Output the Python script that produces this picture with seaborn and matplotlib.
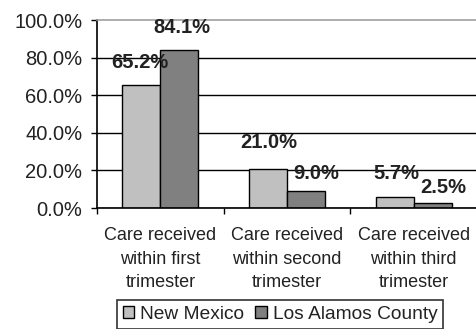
import matplotlib
matplotlib.use("Agg")
import matplotlib.pyplot as plt
import seaborn as sns
import pandas as pd
from matplotlib.ticker import FuncFormatter

categories = [
    "Care received\nwithin first\ntrimester",
    "Care received\nwithin second\ntrimester",
    "Care received\nwithin third\ntrimester",
]
regions = ["New Mexico", "Los Alamos County"]
new_mexico = [65.2, 21.0, 5.7]
los_alamos = [84.1, 9.0, 2.5]
y_ticks = [0, 20, 40, 60, 80, 100]

# value-label offsets (pixels right, pixels up from the bar top), per series
label_shift = {
    "New Mexico": [(-1, 23), (1, 26), (2, 24)],
    "Los Alamos County": [(3, 22), (10, 18), (11, 16)],
}

df = pd.DataFrame({
    "category": categories * 2,
    "region": [regions[0]] * 3 + [regions[1]] * 3,
    "pct": new_mexico + los_alamos,
})

sns.set_style("white")
plt.rcParams["font.family"] = ["Liberation Sans", "DejaVu Sans"]

fig = plt.figure(figsize=(4.77, 3.29), dpi=100)
ax = fig.add_axes([97 / 477, 121 / 329, 380 / 477, 188 / 329])

sns.barplot(
    data=df, x="category", y="pct", hue="region",
    hue_order=regions, order=categories,
    palette=["#c0c0c0", "#808080"], width=0.6,
    edgecolor="black", linewidth=1.0, saturation=1, ax=ax,
)

px = 72 / 100
for region, cont in zip(regions, ax.containers):
    for bar, (dx, dy) in zip(cont, label_shift[region]):
        h = bar.get_height()
        ax.annotate(
            f"{h:.1f}%", (bar.get_x() + bar.get_width() / 2, h),
            xytext=(dx * px, dy * px), textcoords="offset points",
            ha="center", va="center", fontsize=14.5, fontweight="bold",
            color="#222222",
        )

ax.set_ylim(0, 100)
ax.set_xlim(-0.5, 2.5)
ax.set_yticks(y_ticks)
ax.yaxis.set_major_formatter(FuncFormatter(lambda v, _: f"{v:.1f}%"))
ax.grid(axis="y", color="black", linewidth=1.0)
ax.set_axisbelow(True)
ax.yaxis.get_gridlines()[-1].set_visible(False)

ax.set_xlabel("")
ax.set_ylabel("")
ax.tick_params(axis="y", which="major", left=True, length=4.5, width=1,
               color="black", labelsize=14.5, labelcolor="#222222", pad=6)
ax.set_xticks([-0.5, 0.5, 1.5, 2.5], minor=True)
ax.tick_params(axis="x", which="minor", bottom=True, length=4, width=1,
               color="black")
ax.tick_params(axis="x", which="major", length=0, labelsize=13,
               labelcolor="#222222", pad=14)
for lbl in ax.get_xticklabels():
    lbl.set_linespacing(1.5)

for side in ("left", "bottom"):
    ax.spines[side].set_color("black")
    ax.spines[side].set_linewidth(1.2)
ax.spines["top"].set_color("#a0a0a0")
ax.spines["top"].set_linewidth(1.2)
ax.spines["right"].set_visible(False)

handles, labels = ax.get_legend_handles_labels()
ax.get_legend().remove()
leg = fig.legend(
    handles, labels, loc="upper center", bbox_to_anchor=(280 / 477, 1 - 300 / 329),
    ncol=2, frameon=True, fontsize=13.8, handlelength=0.6, handleheight=0.6,
    handletextpad=0.3, columnspacing=0.6, borderpad=0.3, fancybox=False,
    edgecolor="black", borderaxespad=0,
)
leg.get_frame().set_linewidth(1.2)
for t in leg.get_texts():
    t.set_color("#222222")

fig.savefig("out.png", dpi=100)
